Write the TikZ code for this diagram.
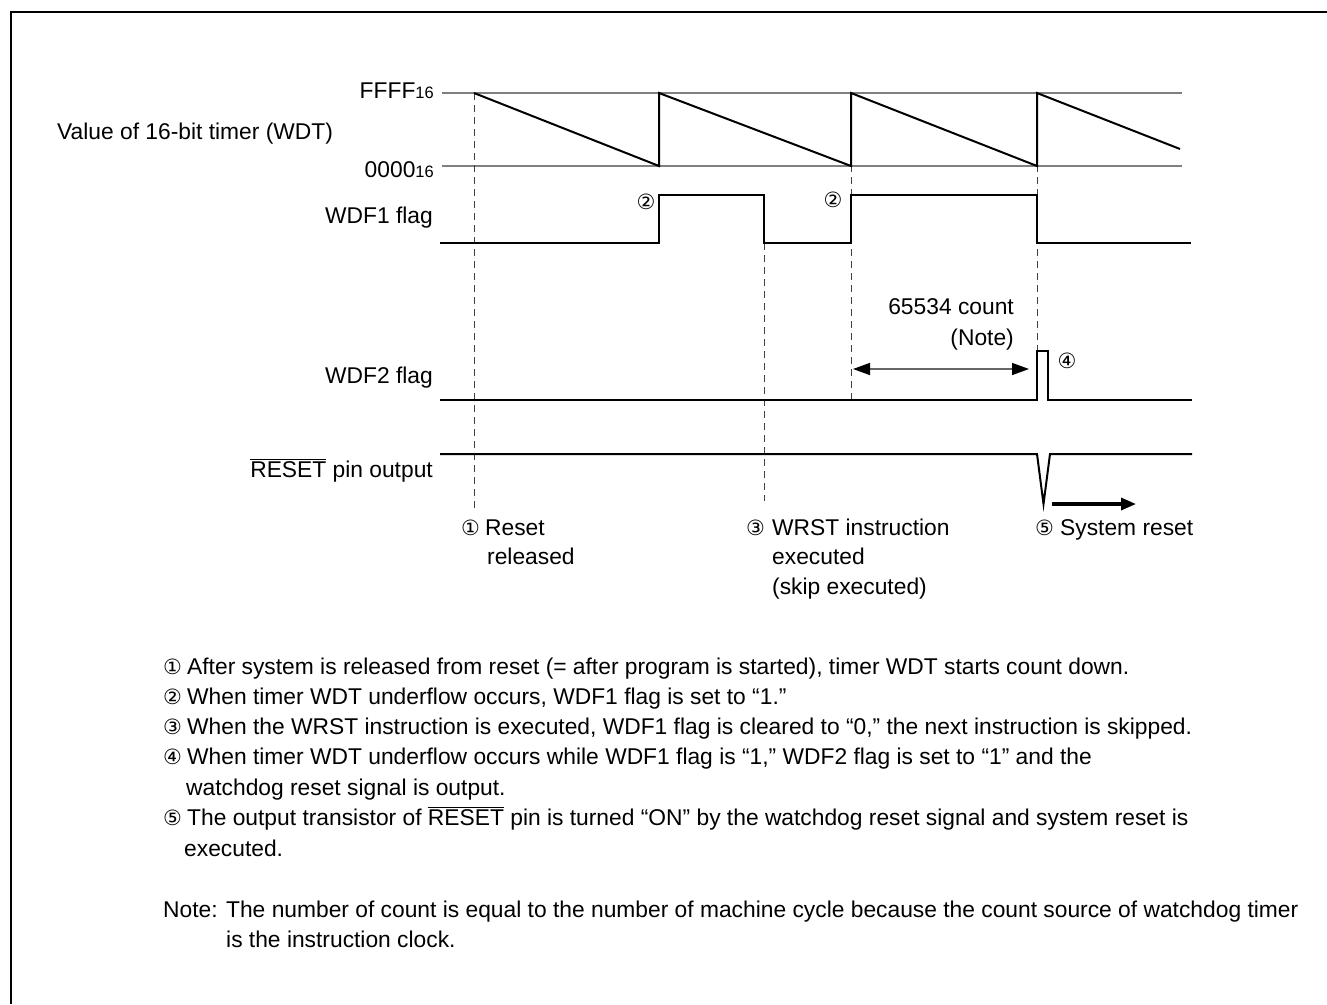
\documentclass[tikz,border=0pt]{standalone}
\usepackage{fontspec}
\setmainfont{Liberation Sans}
\newfontfamily\circfont{DejaVu Sans}
\usetikzlibrary{arrows.meta}
\newcommand\cglyph[1]{{\circfont\fontsize{21}{24}\selectfont #1}}
\newcommand\cnum[2][24pt]{\makebox[#1][l]{\cglyph{#2}}}
\newcommand\subsix{{\fontsize{16.5}{18}\selectfont 16}}
\begin{document}
\begin{tikzpicture}[x=1pt,y=-1pt,
  sig/.style={line width=2pt,black,line join=miter},
  refline/.style={line width=1.2pt,black!50},
  guide/.style={line width=1pt,black!75,dash pattern=on 7pt off 5pt},
  lbl/.style={inner sep=0pt,font=\fontsize{22.8}{27}\selectfont},
  note/.style={inner sep=0pt,font=\fontsize{22.8}{27}\selectfont}]
\useasboundingbox (0,0) rectangle (1327,1004);
% frame
\draw[line width=2.5pt] (11,1004) -- (11,12) -- (1327,12);
% reference levels
\draw[refline] (442,93) -- (1182,93);
\draw[refline] (442,166) -- (1182,166);
% guides
\draw[guide] (474,93) -- (474,511);
\draw[guide] (764,243) -- (764,501);
\draw[guide] (851,93) -- (851,400);
\draw[guide] (1037,93) -- (1037,351);
% timer sawtooth
\draw[sig] (474,93) -- (659,166) -- (659,93) -- (851,166) -- (851,93) -- (1037,166) -- (1037,93) -- (1180,149);
% WDF1
\draw[sig] (440,243) -- (659,243) -- (659,195) -- (764,195) -- (764,243) -- (851,243) -- (851,195) -- (1037,195) -- (1037,243) -- (1191,243);
% WDF2
\draw[sig] (440,400) -- (1037,400) -- (1037,351) -- (1048,351) -- (1048,400) -- (1192,400);
% RESET
\draw[sig] (440,454) -- (1037,454) -- (1043.5,504) -- (1050,454) -- (1192,454);
% count arrow
\coordinate (cA) at (853,369);
\coordinate (cB) at (1029,369);
\draw[line width=1.5pt,black!60,{Triangle[length=17pt,width=12pt,color=black,fill=black]}-{Triangle[length=17pt,width=12pt,color=black,fill=black]}] (cA) -- (cB);
% system reset arrow
\coordinate (sA) at (1052,504);
\coordinate (sB) at (1136,504);
\draw[line width=3.3pt,-{Triangle[length=15pt,width=12pt]}] (sA) -- (sB);
% left labels
\node[lbl,anchor=base east] (lffff) at (434,98) {FFFF\subsix};
\node[lbl,anchor=base west] (lval) at (57,139) {Value of 16-bit timer (WDT)};
\node[lbl,anchor=base east] (lzero) at (434,177) {0000\subsix};
\node[lbl,anchor=base east] (lwdf1) at (433,223) {WDF1 flag};
\node[lbl,anchor=base east] (lwdf2) at (433,383) {WDF2 flag};
\node[lbl,anchor=base east] (lrst) at (433,477) {$\overline{\mbox{RESET}}$ pin output};
% markers
\node[inner sep=0pt] (m2a) at (646,202) {\cglyph{②}};
\node[inner sep=0pt] (m2b) at (833,200) {\cglyph{②}};
\node[inner sep=0pt] (m4) at (1067,361) {\cglyph{④}};
\node[lbl,anchor=base east] (cnt1) at (1014,314) {65534 count};
\node[lbl,anchor=base east] (cnt2) at (1014,345) {(Note)};
% bottom event labels
\node[lbl,anchor=base west] (e1a) at (461,535) {\cnum{①}Reset};
\node[lbl,anchor=base west] (e1b) at (487,564) {released};
\node[lbl,anchor=base west] (e3a) at (746,535) {\cnum[26pt]{③}WRST instruction};
\node[lbl,anchor=base west] (e3b) at (772,564) {executed};
\node[lbl,anchor=base west] (e3c) at (772,594) {(skip executed)};
\node[lbl,anchor=base west] (e5) at (1035,535) {\cnum[25pt]{⑤}System reset};
% notes
\node[note,anchor=base west] (n1) at (163,674) {\cnum{①}After system is released from reset (= after program is started), timer WDT starts count down.};
\node[note,anchor=base west] (n2) at (163,704) {\cnum{②}When timer WDT underflow occurs, WDF1 flag is set to “1.”};
\node[note,anchor=base west] (n3) at (163,734) {\cnum{③}When the WRST instruction is executed, WDF1 flag is cleared to “0,” the next instruction is skipped.};
\node[note,anchor=base west] (n4) at (163,764) {\cnum{④}When timer WDT underflow occurs while WDF1 flag is “1,” WDF2 flag is set to “1” and the};
\node[note,anchor=base west] (n4b) at (186,795) {watchdog reset signal is output.};
\node[note,anchor=base west] (n5) at (163,825) {\cnum{⑤}The output transistor of $\overline{\mbox{RESET}}$ pin is turned “ON” by the watchdog reset signal and system reset is};
\node[note,anchor=base west] (n5b) at (184,856) {executed.};
\node[note,anchor=base west] (nn1) at (163,917) {Note: The number of count is equal to the number of machine cycle because the count source of watchdog timer};
\node[note,anchor=base west] (nn2) at (226,947) {is the instruction clock.};
\end{tikzpicture}
\end{document}
